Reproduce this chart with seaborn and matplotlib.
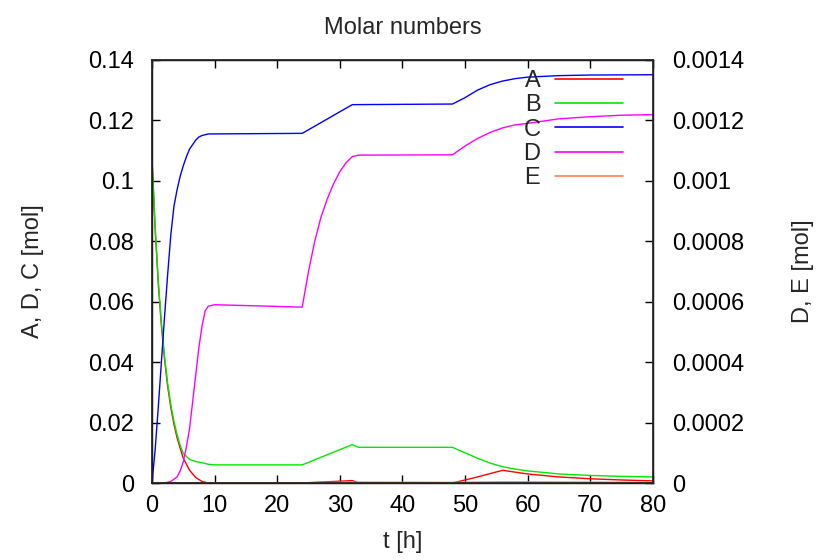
import numpy as np
import pandas as pd
import seaborn as sns
import matplotlib
matplotlib.use("Agg")
import matplotlib.pyplot as plt

# ---- data ----
t_A = [0, 0.5, 1, 1.5, 2, 2.5, 3, 3.5, 4, 4.5, 5, 6, 7, 8, 9, 24, 28, 32, 33, 48, 52, 56, 58, 60, 65, 70, 75, 80]
v_A = [0.107, 0.084, 0.066, 0.052, 0.041, 0.032, 0.025, 0.0195, 0.015, 0.0115, 0.0082, 0.0042, 0.0018, 0.0005, 0.0,
       0.0, 0.0004, 0.0008, 0.0, 0.0, 0.002, 0.0042, 0.0036, 0.003, 0.002, 0.0014, 0.001, 0.0007]

t_B = [0, 0.5, 1, 1.5, 2, 2.5, 3, 3.5, 4, 4.5, 5, 6, 7, 8, 9, 10, 24, 32, 33, 48, 50, 52, 54, 56, 58, 60, 65, 70, 75, 80]
v_B = [0.107, 0.085, 0.067, 0.053, 0.042, 0.033, 0.026, 0.0205, 0.016, 0.0125, 0.0098, 0.0078, 0.0071, 0.0067, 0.0062,
       0.006, 0.006, 0.0127, 0.0118, 0.0118, 0.010, 0.0082, 0.0066, 0.0054, 0.0046, 0.004, 0.003, 0.0025, 0.0022, 0.002]

t_C = [0, 0.5, 1, 1.5, 2, 2.5, 3, 3.5, 4, 4.5, 5, 5.5, 6, 6.5, 7, 7.5, 8, 9, 24, 32, 48, 50, 52, 54, 56, 58, 60, 65, 70, 80]
v_C = [0.0, 0.011, 0.025, 0.040, 0.055, 0.069, 0.082, 0.0915, 0.097, 0.1015, 0.105, 0.108, 0.1105, 0.112, 0.1135,
       0.1145, 0.115, 0.1155, 0.1157, 0.1252, 0.1254, 0.1275, 0.1300, 0.1318, 0.1330, 0.1338, 0.1343, 0.1348, 0.1350, 0.1351]

t_D = [0, 2, 3, 4, 4.5, 5, 5.5, 6, 6.5, 7, 7.5, 8, 8.5, 9, 10, 24, 25, 26, 27, 28, 29, 30, 31, 32, 33, 48,
       50, 52, 54, 56, 58, 60, 65, 70, 75, 80]
v_D = [0.0, 0.0, 0.0005, 0.002, 0.004, 0.007, 0.012, 0.018, 0.027, 0.036, 0.045, 0.052, 0.057, 0.0585, 0.059,
       0.0582, 0.070, 0.080, 0.088, 0.094, 0.099, 0.103, 0.106, 0.108, 0.1085, 0.1086,
       0.1115, 0.114, 0.116, 0.1175, 0.1185, 0.119, 0.1205, 0.1212, 0.1217, 0.1219]

t_E = [0, 10, 24, 32, 48, 56, 80]
v_E = [0.0, 0.0001, 0.0001, 0.0003, 0.0002, 0.0004, 0.0002]

series_names = ["A", "B", "C", "D", "E"]
colors = ["#ff0000", "#00e800", "#0000ff", "#ff00ff", "#ff7f50"]

left_ticks = [0, 0.02, 0.04, 0.06, 0.08, 0.1, 0.12, 0.14]
left_labels = ["0", "0.02", "0.04", "0.06", "0.08", "0.1", "0.12", "0.14"]
right_ticks = [0, 0.0002, 0.0004, 0.0006, 0.0008, 0.001, 0.0012, 0.0014]
right_labels = ["0", "0.0002", "0.0004", "0.0006", "0.0008", "0.001", "0.0012", "0.0014"]
x_ticks = [0, 10, 20, 30, 40, 50, 60, 70, 80]

frames = []
for name, tt, vv in zip(series_names, [t_A, t_B, t_C, t_D, t_E], [v_A, v_B, v_C, v_D, v_E]):
    frames.append(pd.DataFrame({"t": tt, "n": vv, "species": name}))
df = pd.concat(frames, ignore_index=True)

sns.set_theme(style="white")
plt.rcParams["font.family"] = ["Liberation Sans", "DejaVu Sans"]

FS = 17

fig = plt.figure(figsize=(8.19, 5.6), dpi=100)
ax = fig.add_axes([0.1856, 0.1375, 0.797 - 0.1856, 0.893 - 0.1375])

sns.lineplot(data=df, x="t", y="n", hue="species", palette=dict(zip(series_names, colors)),
             estimator=None, sort=False, linewidth=1.0, ax=ax)

ax.set_xlim(0, 80)
ax.set_ylim(0, 0.14)
ax.set_xticks(x_ticks)
ax.set_xticklabels([str(x) for x in x_ticks])
ax.set_yticks(left_ticks)
ax.set_yticklabels(left_labels)
ax.tick_params(axis="both", direction="in", length=6, width=1, labelsize=FS, colors="black",
               top=True, bottom=True, left=True, right=False)
ax.tick_params(axis="x", pad=9)
ax.tick_params(axis="y", pad=13)
for s in ax.spines.values():
    s.set_color("black")
    s.set_linewidth(1.0)
    s.set_visible(True)

ax2 = ax.twinx()
ax2.set_ylim(0, 0.0014)
ax2.set_yticks(right_ticks)
ax2.set_yticklabels(right_labels)
ax2.tick_params(axis="y", direction="in", length=6, width=1, labelsize=FS, colors="black", pad=14)
ax2.set_ylabel("D, E [mol]", fontsize=FS, labelpad=34)
ax2.grid(False)

ax.set_xlabel("t [h]", fontsize=FS, labelpad=10)
ax.set_ylabel("A, D, C [mol]", fontsize=FS, labelpad=32)
ax.set_title("Molar numbers", fontsize=FS, pad=19)

handles, labels = ax.get_legend_handles_labels()
leg = ax.legend(handles, labels, loc="upper right", bbox_to_anchor=(623 / 819, 1 - 70 / 560),
                bbox_transform=fig.transFigure, frameon=False, markerfirst=False,
                fontsize=FS, handlelength=2.9, handletextpad=0.6, labelspacing=0.1,
                borderpad=0, borderaxespad=0)
for line in leg.get_lines():
    line.set_linewidth(1.2)

fig.savefig("out.png", dpi=100)
